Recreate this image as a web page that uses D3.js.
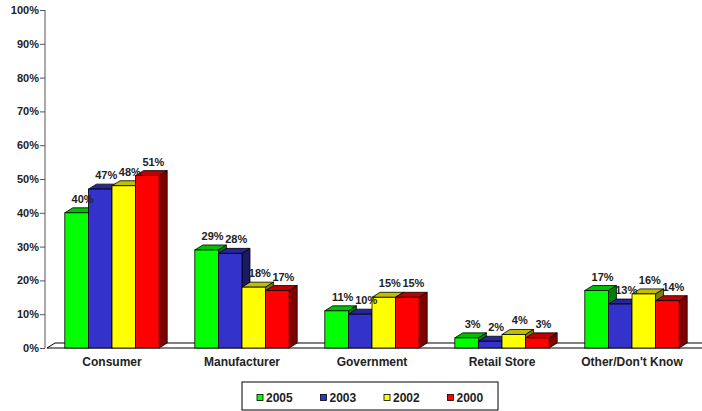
<!DOCTYPE html>
<html lang="en">
<head>
	<meta charset="UTF-8">
	<title>Who is responsible</title>
	<script src="https://cdn.jsdelivr.net/npm/d3@7/dist/d3.min.js"></script>
	<style>
		html,body{
			margin:0;
			padding:0;
			background:#fff;
		}
		svg{
			display:block;
			font-family:"Liberation Sans",Arial,sans-serif;
			font-weight:bold;
		}
	</style>
</head>
<body>
	<svg id="svg" width="702" height="411"></svg>
	<script>
		var categories = ["Consumer","Manufacturer","Government","Retail Store","Other/Don't Know"];
		var years = ["2005","2003","2002","2000"];
		var v2005 = [40,29,11,3,17];
		var v2003 = [47,28,10,2,13];
		var v2002 = [48,18,15,4,16];
		var v2000 = [51,17,15,3,14];
		var yTicks = [0,10,20,30,40,50,60,70,80,90,100];

		var series = [v2005,v2003,v2002,v2000];
		var colors = ["#00ff00","#3333cc","#ffff00","#ff0000"];

		var svg = d3.select("svg");
		var dx = 8, dy = -5;

		var x = d3.scaleBand().domain(categories).range([47,697])
			.paddingInner(0.274).paddingOuter(0.137);
		var xs = d3.scaleBand().domain(years).range([0,x.bandwidth()]);
		var y = d3.scaleLinear().domain([0,100]).range([348,10]);

		// floor
		var y0 = y(0);
		svg.append("polygon")
			.attr("points",[[47,y0],[47+dx,y0+dy],[712,y0+dy],[712-dx,y0]].join(" "))
			.attr("fill","#fff").attr("stroke","#000").attr("stroke-width",1);

		// y axis
		var yAxis = d3.axisLeft(y).tickValues(yTicks).tickSize(5).tickFormat(d=>d+"%");
		var ga = svg.append("g").attr("transform","translate(45,0)").call(yAxis);
		ga.select(".domain").attr("stroke","#555").attr("d","M0,"+y(100)+"V"+y0);
		ga.selectAll(".tick line").attr("stroke","#555");
		ga.selectAll(".tick text").attr("font-size",11).attr("font-family","Liberation Sans,Arial")
			.attr("font-weight","bold").attr("fill","#222").attr("x",-6);

		function shade(c,k){
			var r = d3.rgb(c);
			return d3.rgb(r.r*k,r.g*k,r.b*k).toString();
		}

		// bars
		categories.forEach((cat,ci)=>{
			years.forEach((yr,si)=>{
				var v = series[si][ci];
				var x0 = x(cat)+xs(yr), w = xs.bandwidth(), top = y(v);
				var g = svg.append("g");
				g.append("polygon")
					.attr("points",[[x0,top],[x0+dx,top+dy],[x0+w+dx,top+dy],[x0+w,top]].join(" "))
					.attr("fill",shade(colors[si],0.75)).attr("stroke","#000").attr("stroke-width",0.8);
				g.append("polygon")
					.attr("points",[[x0+w,top],[x0+w+dx,top+dy],[x0+w+dx,y0+dy],[x0+w,y0]].join(" "))
					.attr("fill",shade(colors[si],0.5)).attr("stroke","#000").attr("stroke-width",0.8);
				g.append("rect")
					.attr("x",x0).attr("y",top).attr("width",w).attr("height",y0-top)
					.attr("fill",colors[si]).attr("stroke","#000").attr("stroke-width",0.8);
			});
		});

		// value labels
		categories.forEach((cat,ci)=>{
			years.forEach((yr,si)=>{
				var v = series[si][ci];
				svg.append("text")
					.attr("x",x(cat)+xs(yr)+xs.bandwidth()/2+6)
					.attr("y",y(v)+dy-5)
					.attr("text-anchor","middle")
					.attr("font-size",11)
					.attr("fill","#222")
					.text(v+"%");
			});
		});

		// category labels
		svg.selectAll(".cat").data(categories).enter().append("text")
			.attr("x",d=>x(d)+x.bandwidth()/2)
			.attr("y",366)
			.attr("text-anchor","middle")
			.attr("font-size",12)
			.attr("fill","#222")
			.text(d=>d);

		// legend
		var lg = svg.append("g");
		lg.append("rect").attr("x",242).attr("y",382).attr("width",256).attr("height",28)
			.attr("fill","#fff").attr("stroke","#000").attr("stroke-width",1);
		years.forEach((yr,i)=>{
			var lx = 257+i*63.5;
			lg.append("rect").attr("x",lx).attr("y",394.5).attr("width",6).attr("height",6)
				.attr("fill",colors[i]).attr("stroke","#000").attr("stroke-width",0.8);
			lg.append("text").attr("x",lx+9).attr("y",402).attr("font-size",12)
				.attr("fill","#222").text(yr);
		});
	</script>
</body>
</html>
